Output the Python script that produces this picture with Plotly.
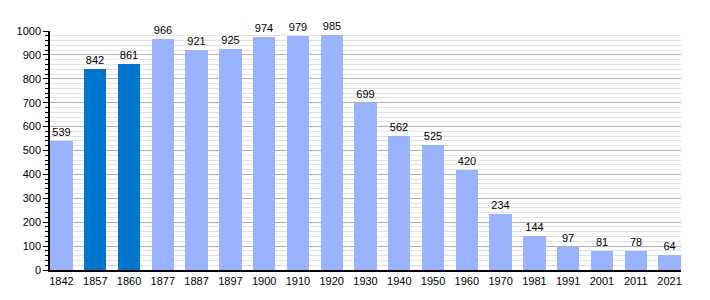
import plotly.graph_objects as go

years = ["1842", "1857", "1860", "1877", "1887", "1897", "1900", "1910", "1920", "1930",
         "1940", "1950", "1960", "1970", "1981", "1991", "2001", "2011", "2021"]
population = [539, 842, 861, 966, 921, 925, 974, 979, 985, 699,
              562, 525, 420, 234, 144, 97, 81, 78, 64]
highlight = ["1857", "1860"]

light = "#99b3ff"
dark = "#0077cc"
colors = [dark if y in highlight else light for y in years]
xpos = list(range(len(years)))

fig = go.Figure(go.Bar(
    x=xpos, y=population, width=0.66,
    marker=dict(color=colors, line=dict(width=0)),
    text=[str(v) for v in population], textposition="outside",
    textfont=dict(family="Liberation Sans, Arial", size=11, color="black"),
    cliponaxis=False,
))

fig.update_layout(
    width=710, height=300,
    margin=dict(l=50, r=29, t=31, b=30),
    plot_bgcolor="white", paper_bgcolor="white",
    showlegend=False,
    bargap=0,
    font=dict(family="Liberation Sans, Arial", size=11, color="black"),
    uniformtext=dict(mode=False),
)
fig.update_xaxes(
    tickmode="array", tickvals=xpos, ticktext=years,
    range=[-0.34, len(years) - 1 + 0.34],
    showline=True, linecolor="black", linewidth=1.5,
    ticks="", showgrid=False, zeroline=False,
    tickfont=dict(size=11),
)
fig.update_yaxes(
    range=[0, 1000], dtick=100, tick0=0,
    showline=True, linecolor="black", linewidth=1.5,
    ticks="outside", ticklen=5, tickcolor="black",
    showgrid=True, gridcolor="#b0b0b0", gridwidth=1,
    zeroline=False,
    minor=dict(dtick=20, ticks="outside", ticklen=3, tickcolor="black",
               showgrid=True, gridcolor="#e2e2e2", gridwidth=1),
    tickfont=dict(size=11),
)

fig.write_html("out.html")
